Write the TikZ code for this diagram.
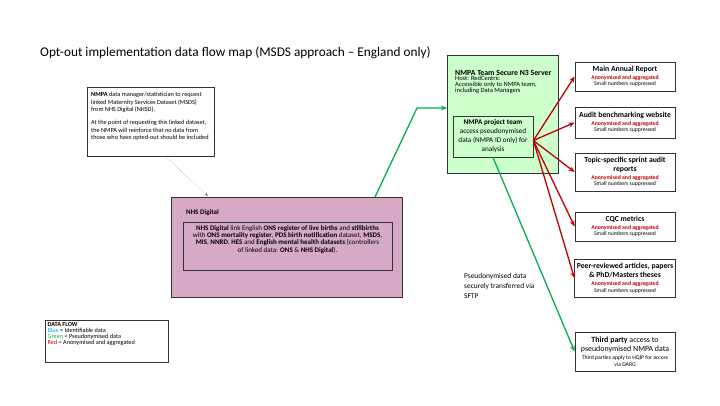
\documentclass[tikz,border=0pt]{standalone}
\usepackage{fontspec}
\setmainfont{Carlito}
\usetikzlibrary{arrows.meta}

\definecolor{flowgreen}{RGB}{0,176,80}
\definecolor{flowred}{RGB}{192,0,0}
\definecolor{flowblue}{RGB}{0,176,240}
\definecolor{nhspink}{RGB}{214,170,196}
\definecolor{serverfill}{RGB}{204,255,204}

\tikzset{
  box/.style={draw=black!80, line width=0.8pt, inner sep=2pt},
  outbox/.style={box, fill=white, minimum width=100, align=center},
  plain/.style={inner sep=0pt},
  greenflow/.style={draw=flowgreen, line width=1.3pt, -{Stealth[length=6pt,width=5pt]}},
  redflow/.style={draw=flowred, line width=1.3pt, -{Stealth[length=6pt,width=5pt]}},
}

\newcommand{\anon}{{\fontsize{5.7}{6.5}\selectfont\bfseries\color{flowred}Anonymised and aggregated}}
\newcommand{\smallsup}{{\fontsize{5.7}{6.5}\selectfont Small numbers suppressed}}

\begin{document}
\begin{tikzpicture}[x=1pt,y=-1pt]

      \useasboundingbox (0,0) rectangle (720,405);

      \node[anchor=base west, plain, font=\fontsize{13.3}{16}\selectfont] (title) at (40,56)
        {Opt-out implementation data flow map (MSDS approach -- England only)};

      % request box
      \node[box, anchor=north west, minimum width=127, minimum height=69] (req) at (87,87) {};
      \node[plain, anchor=north west, align=left, font=\fontsize{6.3}{7.5}\selectfont] (reqtxt) at (91,92)
        {\textbf{NMPA} data manager/statistician to request\\
         linked Maternity Services Dataset (MSDS)\\
         from NHS Digital (NHSD).\\[5.5pt]
         At the point of requesting this linked dataset,\\
         the NMPA will reinforce that no data from\\
         those who have opted-out should be included};

      % NHS Digital
      \node[box, fill=nhspink, anchor=north west, minimum width=231, minimum height=100] (nhs) at (171,197) {};
      \node[plain, anchor=west, font=\fontsize{7}{8}\selectfont\bfseries] (nhslbl) at (186,213) {NHS Digital};
      \node[box, minimum width=209, minimum height=48] (link) at (287.5,246) {};
      \node[plain, align=center, font=\fontsize{7}{7.2}\selectfont] (linktxt) at (287.5,239.5)
        {\textbf{NHS Digital} link English \textbf{ONS register of live births} and \textbf{stillbirths}\\
         with \textbf{ONS mortality register}, \textbf{PDS birth notification} dataset, \textbf{MSDS},\\
         \textbf{MIS}, \textbf{NNRD}, \textbf{HES} and \textbf{English mental health datasets} (controllers\\
         of linked data: \textbf{ONS} \& \textbf{NHS Digital}).};

      % N3 server
      \node[box, fill=serverfill, anchor=north west, minimum width=111, minimum height=118] (n3) at (447,55) {};
      \begin{scope}[every node/.style={plain, anchor=base west, font=\fontsize{6.5}{6}\selectfont}]
        \node[font=\fontsize{7.8}{8}\selectfont\bfseries] (n3lbl) at (455,75) {NMPA Team Secure N3 Server};
        \node (n3host) at (455,80.6) {Host: RedCentric};
        \node (n3acc)  at (455,86.3) {Accessible only to NMPA team,};
        \node (n3inc)  at (455,92) {including Data Managers};
      \end{scope}
      \node[box, minimum width=80, minimum height=41, align=center, inner sep=0pt,
            font=\fontsize{7.2}{9}\selectfont] (proj) at (493,136.5)
        {\textbf{NMPA project team}\\ access pseudonymised\\ data (NMPA ID only) for\\ analysis};

      % outputs
      \begin{scope}[every node/.style={outbox, font=\fontsize{7.7}{9}\selectfont}]
        \node[minimum height=29] (o1) at (625,76.5)
          {\textbf{Main Annual Report}\\[-1pt]\anon\\[-2.5pt]\smallsup};
        \node[minimum height=31] (o2) at (625,122.5)
          {\textbf{Audit benchmarking website}\\[-1pt]\anon\\[-2.5pt]\smallsup};
        \node[minimum height=38] (o3) at (625,172)
          {\textbf{Topic-specific sprint audit}\\ \textbf{reports}\\[-1.5pt]\anon\\[-2.5pt]\smallsup};
        \node[minimum height=29] (o4) at (625,226.5)
          {\textbf{CQC metrics}\\[-1pt]\anon\\[-2.5pt]\smallsup};
        \node[minimum height=38] (o5) at (625,278)
          {\textbf{Peer-reviewed articles, papers}\\ \textbf{\& PhD/Masters theses}\\[-1pt]\anon\\[-2.5pt]\smallsup};
        \node[minimum height=39, font=\fontsize{7.9}{9}\selectfont] (o6) at (625,351.5)
          {\textbf{Third party} access to\\ pseudonymised NMPA data\\[-1pt]
           {\fontsize{5.7}{6.5}\selectfont Third parties apply to HQIP for access}\\[-2.5pt]
           {\fontsize{5.7}{6.5}\selectfont via DARG}};
      \end{scope}

      \node[plain, anchor=north west, align=left, font=\fontsize{7.4}{10}\selectfont] (sftp) at (464,273.5)
        {Pseudonymised data\\ securely transferred via\\ SFTP};

      % legend
      \node[box, anchor=north west, minimum width=123, minimum height=42] (key) at (45,320) {};
      \node[plain, anchor=north west, align=left, font=\fontsize{6.2}{6}\selectfont] (keytxt) at (47.5,322.5)
        {\textbf{DATA FLOW}\\
         {\color{flowblue}Blue} = Identifiable data\\
         {\color{flowgreen}Green} = Pseudonymised data\\
         {\color{flowred}Red} = Anonymised and aggregated};

      % connectors
      \coordinate (d1) at (167,158);
      \coordinate (d2) at (208,196);
      \draw[densely dotted, gray, -{Stealth[length=4pt]}] (d1) -- (d2);

      \coordinate (g1) at (375,197);
      \coordinate (g2) at (417,108);
      \draw[greenflow] (g1) -- (g2) -- (g2 -| n3.west);
      \draw[greenflow] (proj.south) -- (o6.west);

      \foreach \o in {o1,o2,o3,o4,o5}
        \draw[redflow] ([yshift=-4pt]proj.east) -- (\o.west);

    \end{tikzpicture}
\end{document}
